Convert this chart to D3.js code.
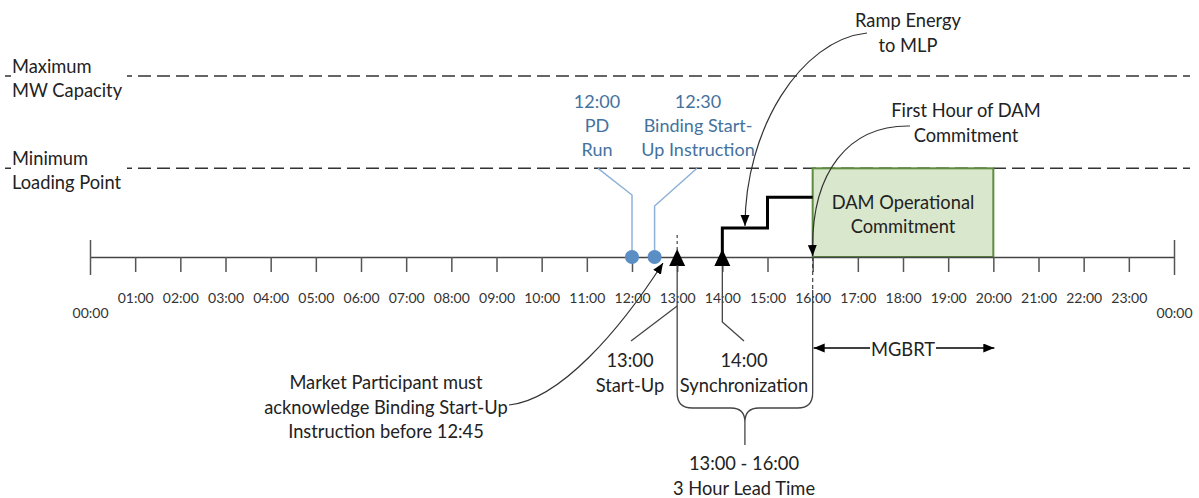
<!DOCTYPE html>
<html>
<head>
<meta charset="utf-8">
<script src="https://cdn.jsdelivr.net/npm/d3@7"></script>
<style>
  body { margin: 0; background: #fff; }
  svg text { font-family: Lato, "Open Sans", sans-serif; }
</style>
</head>
<body>
<div id="chart"></div>
<script>
// timeline data
const hours = [0, 1, 2, 3, 4, 5, 6, 7, 8, 9, 10, 11, 12, 13, 14, 15, 16, 17, 18, 19, 20, 21, 22, 23, 24];
const tickLabels = ['00:00', '01:00', '02:00', '03:00', '04:00', '05:00', '06:00', '07:00', '08:00',
  '09:00', '10:00', '11:00', '12:00', '13:00', '14:00', '15:00', '16:00', '17:00', '18:00',
  '19:00', '20:00', '21:00', '22:00', '23:00', '00:00'];
const levelNames = [['Maximum', 'MW Capacity'], ['Minimum', 'Loading Point']];
const levelMW = [100, 49];
const rampHours = [14, 14, 15, 16];
const rampMW = [0, 16, 33, 33];
const damHours = [16, 20];
const dotHours = [12, 12.5];
const markHours = [13, 14];

const w = 1199, h = 498;
const ink = '#222', blueText = '#44729e', blueLine = '#8eb1d8';
const fs = 18.3;

const svg = d3.select('#chart')
              .append('svg')
              .attr('width', w)
              .attr('height', h);

const x = d3.scaleLinear().domain([0, 24]).range([90, 1174]);
const y = d3.scaleLinear().domain([0, 100]).range([257, 76]);

const defs = svg.append('defs');
defs.append('marker')
    .attr('id', 'arr')
    .attr('markerUnits', 'userSpaceOnUse')
    .attr('markerWidth', 12).attr('markerHeight', 10)
    .attr('refX', 11).attr('refY', 4.5)
    .attr('orient', 'auto-start-reverse')
    .append('path')
    .attr('d', 'M0,0 L11,4.5 L0,9 Z')
    .attr('fill', '#000');

// level lines
levelMW.forEach(function(mw, i) {
  svg.append('line')
     .attr('x1', 5).attr('x2', 1190)
     .attr('y1', y(mw)).attr('y2', y(mw))
     .attr('stroke', '#333').attr('stroke-width', 1.5)
     .attr('stroke-dasharray', '13,6');
  svg.append('rect')
     .attr('x', 11).attr('width', 116)
     .attr('y', y(mw) - 22).attr('height', 47)
     .attr('fill', '#fff');
  levelNames[i].forEach(function(t, j) {
    svg.append('text')
       .attr('x', 12).attr('y', y(mw) - 10 + j * 24)
       .attr('dominant-baseline', 'central')
       .attr('font-size', fs).attr('fill', ink)
       .text(t);
  });
});

// DAM commitment block
svg.append('rect')
   .attr('x', x(damHours[0])).attr('width', x(damHours[1]) - x(damHours[0]))
   .attr('y', y(levelMW[1])).attr('height', y(0) - y(levelMW[1]))
   .attr('fill', '#d9e7cc').attr('stroke', '#5e8c40').attr('stroke-width', 2);
['DAM Operational', 'Commitment'].forEach(function(t, j) {
  svg.append('text')
     .attr('x', (x(damHours[0]) + x(damHours[1])) / 2).attr('y', 202 + j * 24)
     .attr('text-anchor', 'middle').attr('dominant-baseline', 'central')
     .attr('font-size', fs).attr('fill', ink)
     .text(t);
});

// axis
const axis = d3.axisBottom(x)
               .tickValues(hours)
               .tickSize(15)
               .tickSizeOuter(0)
               .tickFormat((d, i) => tickLabels[i]);
const gx = svg.append('g')
              .attr('transform', `translate(0,${y(0)})`)
              .call(axis);
gx.select('.domain').attr('stroke', '#444').attr('stroke-width', 1.5);
gx.selectAll('.tick line')
  .attr('stroke', '#555').attr('stroke-width', 1.5)
  .attr('y1', (d, i) => (i === 0 || i === 24) ? -17 : 0)
  .attr('y2', (d, i) => (i === 0 || i === 24) ? 18 : 15);
gx.selectAll('.tick text')
  .attr('y', (d, i) => (i === 0 || i === 24) ? 56 : 41)
  .attr('dy', '0.35em')
  .attr('font-size', 14)
  .attr('fill', '#333');

// 13:00 / 16:00 dashed stubs
svg.append('line')
   .attr('x1', x(13)).attr('x2', x(13)).attr('y1', 235).attr('y2', 250)
   .attr('stroke', '#444').attr('stroke-width', 1.2).attr('stroke-dasharray', '3,3');
svg.append('line')
   .attr('x1', x(16)).attr('x2', x(16)).attr('y1', y(0)).attr('y2', 290)
   .attr('stroke', '#444').attr('stroke-width', 1.2).attr('stroke-dasharray', '4,3');

// ramp step line
const ramp = d3.line()
               .x(d => x(d[0]))
               .y(d => y(d[1]))
               .curve(d3.curveStepAfter);
svg.append('path')
   .datum(rampHours.map((t, i) => [t, rampMW[i]]))
   .attr('d', ramp)
   .attr('fill', 'none').attr('stroke', '#000').attr('stroke-width', 3);

// blue PD / binding instruction markers
svg.append('path')
   .attr('d', `M${x(12)},${y(0)} V195 L598,${y(levelMW[1])}`)
   .attr('fill', 'none').attr('stroke', blueLine).attr('stroke-width', 1.5);
svg.append('path')
   .attr('d', `M${x(12.5)},${y(0)} V206 L697,${y(levelMW[1])}`)
   .attr('fill', 'none').attr('stroke', blueLine).attr('stroke-width', 1.5);
svg.selectAll('circle.dot')
   .data(dotHours)
   .enter()
   .append('circle')
   .attr('class', 'dot')
   .attr('cx', d => x(d)).attr('cy', y(0)).attr('r', 7)
   .attr('fill', '#5b8ec5');
[['12:00', 'PD', 'Run', 597], ['12:30', 'Binding Start-', 'Up Instruction', 698]].forEach(function(g) {
  g.slice(0, 3).forEach(function(t, j) {
    svg.append('text')
       .attr('x', g[3]).attr('y', 101 + j * 24)
       .attr('text-anchor', 'middle').attr('dominant-baseline', 'central')
       .attr('font-size', fs - 0.3).attr('fill', blueText)
       .text(t);
  });
});

// start-up / sync event triangles and leaders
svg.append('path')
   .attr('d', `M${x(14)},265 V322 L744,341`)
   .attr('fill', 'none').attr('stroke', '#444').attr('stroke-width', 1.3);
svg.append('path')
   .attr('d', `M631,341 L${x(13)},306`)
   .attr('fill', 'none').attr('stroke', '#444').attr('stroke-width', 1.3);
svg.selectAll('polygon.mark')
   .data(markHours)
   .enter()
   .append('polygon')
   .attr('class', 'mark')
   .attr('points', d => `${x(d) - 8},266 ${x(d)},249 ${x(d) + 8},266`)
   .attr('fill', '#000');

// lead time brace
const bx0 = x(13), bx1 = x(16), bm = (bx0 + bx1) / 2;
svg.append('path')
   .attr('d', `M${bx0},265 V393 Q${bx0},408 ${bx0 + 15},408 H${bm - 14} Q${bm},408 ${bm},422 ` +
              `Q${bm},408 ${bm + 14},408 H${bx1 - 15} Q${bx1},408 ${bx1},393 V290`)
   .attr('fill', 'none').attr('stroke', '#444').attr('stroke-width', 1.3);
svg.append('line')
   .attr('x1', bm).attr('x2', bm).attr('y1', 422).attr('y2', 445)
   .attr('stroke', '#444').attr('stroke-width', 1.3);

// MGBRT arrow
svg.append('line')
   .attr('x1', x(16) + 1).attr('x2', x(20) + 1).attr('y1', 348).attr('y2', 348)
   .attr('stroke', '#000').attr('stroke-width', 1.3)
   .attr('marker-start', 'url(#arr)').attr('marker-end', 'url(#arr)');
svg.append('rect')
   .attr('x', 870).attr('width', 66).attr('y', 338).attr('height', 22)
   .attr('fill', '#fff');
svg.append('text')
   .attr('x', 903).attr('y', 349)
   .attr('text-anchor', 'middle').attr('dominant-baseline', 'central')
   .attr('font-size', fs).attr('fill', ink)
   .text('MGBRT');

// curved callouts
svg.append('path')
   .attr('d', 'M509,405 C560,400 620,330 663,263')
   .attr('fill', 'none').attr('stroke', '#333').attr('stroke-width', 1.2)
   .attr('marker-end', 'url(#arr)');
svg.append('path')
   .attr('d', 'M867,33 C800,40 745,130 745,226')
   .attr('fill', 'none').attr('stroke', '#333').attr('stroke-width', 1.2)
   .attr('marker-end', 'url(#arr)');
svg.append('path')
   .attr('d', `M910,126 C850,125 810,170 ${x(16)},256`)
   .attr('fill', 'none').attr('stroke', '#333').attr('stroke-width', 1.2)
   .attr('marker-end', 'url(#arr)');

// text annotations
const notes = [
  [908, 20, ['Ramp Energy', 'to MLP']],
  [966, 110, ['First Hour of DAM', 'Commitment']],
  [630, 360, ['13:00', 'Start-Up']],
  [744, 360, ['14:00', 'Synchronization']],
  [386, 382, ['Market Participant must', 'acknowledge Binding Start-Up', 'Instruction before 12:45']],
  [744, 463, ['13:00 - 16:00', '3 Hour Lead Time']]
];
notes.forEach(function(n) {
  n[2].forEach(function(t, j) {
    svg.append('text')
       .attr('x', n[0]).attr('y', n[1] + j * 24.5)
       .attr('text-anchor', 'middle').attr('dominant-baseline', 'central')
       .attr('font-size', fs).attr('fill', ink)
       .text(t);
  });
});
</script>
</body>
</html>
